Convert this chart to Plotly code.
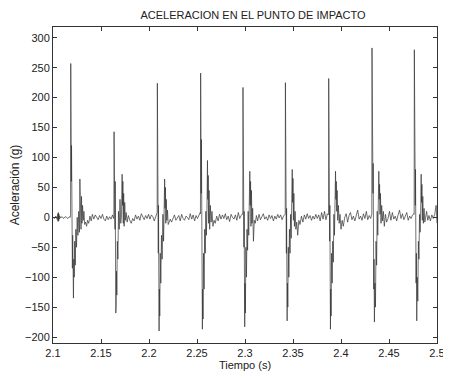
import plotly.graph_objects as go

# ---- data ----
t0 = [2.1000, 2.1015, 2.1030, 2.1045, 2.1050, 2.1053, 2.1056, 2.1059, 2.1062, 2.1066, 2.1070, 2.1080, 2.1095, 2.1110, 2.1125, 2.1140, 2.1155, 2.1170, 2.1180]
a0 = [0, -2, 2, -4, 6, -7, 8, -6, 5, -3, 2, -1, 1, -2, 1, 0, -2, 1, 0]

t1 = [2.1183, 2.1185, 2.1187, 2.1189, 2.1191, 2.1193, 2.1196, 2.1199, 2.1202, 2.1205, 2.1209, 2.1213, 2.1217, 2.1221, 2.1226, 2.1232, 2.1238, 2.1245, 2.1252, 2.1260, 2.1268, 2.1275, 2.1280, 2.1284, 2.1288, 2.1292, 2.1297, 2.1302, 2.1308, 2.1315, 2.1322, 2.1330, 2.1340, 2.1350, 2.1360, 2.1372, 2.1385, 2.1398, 2.1410, 2.1425, 2.1440, 2.1455, 2.1470, 2.1485, 2.1500, 2.1515, 2.1530, 2.1545, 2.1560, 2.1575, 2.1590, 2.1605, 2.1620, 2.1632]
a1 = [5, 257, 140, 200, 60, 120, -20, 40, -85, -30, -110, -135, -70, -100, -40, -80, -20, -50, 0, -30, 10, -25, 64, 10, 50, -20, 35, -10, 20, -5, 10, -12, -8, -15, -5, -10, 2, -6, 5, -3, 4, 0, -4, 3, -2, 5, -3, -6, 2, -4, 1, -3, 4, -2]

t2 = [2.1634, 2.1636, 2.1638, 2.1640, 2.1642, 2.1644, 2.1646, 2.1648, 2.1650, 2.1652, 2.1654, 2.1656, 2.1658, 2.1661, 2.1665, 2.1670, 2.1676, 2.1682, 2.1690, 2.1698, 2.1706, 2.1714, 2.1720, 2.1724, 2.1728, 2.1732, 2.1736, 2.1741, 2.1747, 2.1754, 2.1762, 2.1772, 2.1785, 2.1800, 2.1815, 2.1830, 2.1845, 2.1860, 2.1875, 2.1890, 2.1905, 2.1920, 2.1935, 2.1950, 2.1965, 2.1980, 2.1995, 2.2010, 2.2025, 2.2040, 2.2055, 2.2070, 2.2082]
a2 = [4, 143, 30, 135, 25, 120, -20, 60, -110, -60, -160, -115, -150, -90, -130, -40, -70, 10, -20, 30, -10, 5, 72, 20, 60, -10, 40, -15, 25, -5, 8, -8, 3, -5, -10, -2, -6, 4, -3, 2, -5, 6, 0, -4, 3, -2, 5, -3, 4, 1, -6, 3, 6]

t3 = [2.2085, 2.2087, 2.2089, 2.2091, 2.2093, 2.2095, 2.2097, 2.2099, 2.2101, 2.2103, 2.2105, 2.2108, 2.2112, 2.2117, 2.2123, 2.2130, 2.2137, 2.2145, 2.2152, 2.2158, 2.2163, 2.2167, 2.2171, 2.2175, 2.2180, 2.2186, 2.2193, 2.2200, 2.2210, 2.2222, 2.2235, 2.2250, 2.2265, 2.2280, 2.2295, 2.2310, 2.2325, 2.2340, 2.2355, 2.2370, 2.2385, 2.2400, 2.2415, 2.2430, 2.2445, 2.2460, 2.2475, 2.2490, 2.2505, 2.2520, 2.2533]
a3 = [8, 224, 90, 180, 40, 110, -60, 20, -140, -80, -190, -120, -165, -60, -110, -30, -70, 5, -40, 10, 64, 15, 50, -10, 30, -5, 12, -12, -6, -3, -8, -2, 4, -5, -1, 3, -6, 5, -2, -5, 2, 0, -4, 6, -3, 4, -6, 3, -2, 5, 8]

t4 = [2.2536, 2.2538, 2.2540, 2.2542, 2.2544, 2.2546, 2.2548, 2.2550, 2.2552, 2.2554, 2.2556, 2.2559, 2.2563, 2.2568, 2.2574, 2.2580, 2.2586, 2.2592, 2.2598, 2.2604, 2.2609, 2.2613, 2.2617, 2.2621, 2.2626, 2.2632, 2.2639, 2.2647, 2.2656, 2.2666, 2.2678, 2.2690, 2.2705, 2.2720, 2.2735, 2.2750, 2.2765, 2.2780, 2.2795, 2.2810, 2.2825, 2.2840, 2.2855, 2.2870, 2.2885, 2.2900, 2.2915, 2.2930, 2.2945, 2.2960, 2.2975]
a4 = [6, 241, 110, 190, 40, 130, -40, 20, -130, -70, -187, -120, -170, -60, -120, -20, -60, 10, -30, 15, 95, 30, 70, -10, 45, -20, 20, -8, 10, -15, -5, -10, 2, -6, 5, -3, 4, -2, 6, -4, 2, -7, 5, 0, -3, 4, -5, 8, -2, 3, 6]

t5 = [2.2977, 2.2979, 2.2981, 2.2983, 2.2985, 2.2987, 2.2989, 2.2991, 2.2993, 2.2995, 2.2997, 2.3000, 2.3004, 2.3009, 2.3015, 2.3021, 2.3027, 2.3033, 2.3039, 2.3045, 2.3050, 2.3054, 2.3058, 2.3062, 2.3067, 2.3073, 2.3080, 2.3088, 2.3097, 2.3107, 2.3119, 2.3131, 2.3146, 2.3161, 2.3176, 2.3191, 2.3206, 2.3221, 2.3236, 2.3251, 2.3266, 2.3281, 2.3296, 2.3311, 2.3326, 2.3341, 2.3356, 2.3371, 2.3386, 2.3401, 2.3417]
a5 = [5, 217, 90, 170, 30, 120, -50, 10, -90, -40, -183, -110, -160, -50, -100, -20, -55, 10, -30, 5, 77, 20, 60, -15, 45, -10, 15, -40, -5, -10, 3, -6, 5, -4, 2, 6, -3, 1, -5, 4, -2, 3, -6, 2, -3, 5, -1, 4, -4, 2, 5]

t6 = [2.3419, 2.3421, 2.3423, 2.3425, 2.3427, 2.3429, 2.3431, 2.3433, 2.3435, 2.3437, 2.3439, 2.3442, 2.3446, 2.3451, 2.3457, 2.3463, 2.3469, 2.3475, 2.3481, 2.3487, 2.3492, 2.3496, 2.3500, 2.3504, 2.3509, 2.3515, 2.3522, 2.3530, 2.3539, 2.3549, 2.3561, 2.3573, 2.3588, 2.3603, 2.3618, 2.3633, 2.3648, 2.3663, 2.3678, 2.3693, 2.3708, 2.3723, 2.3738, 2.3753, 2.3768, 2.3783, 2.3798, 2.3813, 2.3828, 2.3843, 2.3858, 2.3868]
a6 = [6, 225, 100, 180, 35, 125, -60, 15, -120, -60, -173, -110, -150, -50, -100, -20, -60, 5, -35, 10, 80, 25, 65, -5, 40, -15, 10, -20, -8, -30, -5, -12, 2, -8, 4, -3, 6, -2, 3, -5, 2, -3, 5, -2, 4, -6, 8, -3, 10, -4, 6, 4]

t7 = [2.3870, 2.3872, 2.3874, 2.3876, 2.3878, 2.3880, 2.3882, 2.3884, 2.3886, 2.3888, 2.3890, 2.3893, 2.3897, 2.3902, 2.3908, 2.3914, 2.3920, 2.3926, 2.3932, 2.3938, 2.3943, 2.3947, 2.3951, 2.3955, 2.3960, 2.3966, 2.3973, 2.3981, 2.3990, 2.4000, 2.4012, 2.4024, 2.4039, 2.4054, 2.4069, 2.4084, 2.4099, 2.4114, 2.4129, 2.4144, 2.4159, 2.4174, 2.4189, 2.4204, 2.4219, 2.4234, 2.4249, 2.4264, 2.4279, 2.4294, 2.4309, 2.4319]
a7 = [5, 232, 100, 190, 40, 130, -40, 20, -100, -50, -187, -120, -165, -60, -110, -40, -75, 5, -30, 10, 77, 30, 60, 10, 45, -5, 20, -10, 5, -20, -5, -15, 0, 6, -8, 3, 8, -4, 2, -6, 4, 12, -3, 2, -5, 6, -2, 10, -4, 3, -2, 4]

t8 = [2.4321, 2.4323, 2.4325, 2.4327, 2.4329, 2.4331, 2.4333, 2.4335, 2.4337, 2.4339, 2.4341, 2.4344, 2.4348, 2.4353, 2.4359, 2.4365, 2.4371, 2.4377, 2.4383, 2.4389, 2.4394, 2.4398, 2.4402, 2.4406, 2.4411, 2.4417, 2.4424, 2.4432, 2.4441, 2.4451, 2.4463, 2.4475, 2.4490, 2.4505, 2.4520, 2.4535, 2.4550, 2.4565, 2.4580, 2.4595, 2.4610, 2.4625, 2.4640, 2.4655, 2.4670, 2.4685, 2.4700, 2.4715, 2.4730, 2.4745, 2.4760]
a8 = [6, 283, 130, 240, 60, 180, 40, 90, -60, -20, -120, -70, -175, -110, -150, -40, -80, 10, -30, 15, 77, 30, 55, 5, 40, -10, 20, -6, 10, -15, 5, -8, -2, 10, -5, 8, -3, 2, -6, 4, 12, -2, 6, -4, 3, 8, -5, 2, -2, 4, 6]

t9 = [2.4762, 2.4764, 2.4766, 2.4768, 2.4770, 2.4772, 2.4774, 2.4776, 2.4778, 2.4780, 2.4782, 2.4785, 2.4789, 2.4794, 2.4800, 2.4806, 2.4812, 2.4818, 2.4824, 2.4830, 2.4835, 2.4839, 2.4843, 2.4847, 2.4852, 2.4858, 2.4865, 2.4873, 2.4882, 2.4892, 2.4904, 2.4916, 2.4931, 2.4946, 2.4961, 2.4976, 2.4991, 2.5000]
a9 = [5, 280, 120, 230, 60, 160, 20, 80, -80, -30, -110, -60, -173, -100, -140, -40, -70, 5, -25, 10, 72, 25, 55, -5, 35, -10, 15, -8, 5, 10, -5, 3, -6, 4, -2, 5, 20, -10]

x_ticks = [2.1, 2.15, 2.2, 2.25, 2.3, 2.35, 2.4, 2.45, 2.5]
x_tick_labels = ["2.1", "2.15", "2.2", "2.25", "2.3", "2.35", "2.4", "2.45", "2.5"]
y_ticks = [-200, -150, -100, -50, 0, 50, 100, 150, 200, 250, 300]

title_text = "ACELERACION EN EL PUNTO DE IMPACTO"
x_label = "Tiempo (s)"
y_label = "Aceleración (g)"

# ---- assemble ----
times = t0 + t1 + t2 + t3 + t4 + t5 + t6 + t7 + t8 + t9
accel = a0 + a1 + a2 + a3 + a4 + a5 + a6 + a7 + a8 + a9

FONT = "Liberation Sans, Arial, sans-serif"
TXT = "#222222"

fig = go.Figure()
fig.add_trace(go.Scatter(x=times, y=accel, mode="lines",
                         line=dict(color="#333333", width=0.7),
                         showlegend=False, hoverinfo="skip"))

axis_common = dict(showline=True, mirror="ticks", linecolor="#333333", linewidth=1,
                   ticks="inside", ticklen=4, tickcolor="#333333",
                   showgrid=False, zeroline=False, automargin=False,
                   tickfont=dict(family=FONT, size=11, color=TXT))

# the page body adds an 8 px offset, so the figure is 8 px smaller
fig.update_layout(
    width=443, height=370,
    margin=dict(l=45, r=14, t=19, b=35),
    paper_bgcolor="white", plot_bgcolor="white",
    title=dict(text=title_text, x=0.553, xanchor="center", y=0.99, yanchor="top",
               font=dict(family=FONT, size=11, color=TXT)),
    xaxis=dict(range=[2.1, 2.5], tickvals=x_ticks, ticktext=x_tick_labels,
               title=dict(text=x_label, standoff=2,
                          font=dict(family=FONT, size=11, color=TXT)),
               **axis_common),
    yaxis=dict(range=[-210, 318], tickvals=y_ticks,
               title=dict(text=y_label, standoff=9,
                          font=dict(family=FONT, size=12, color=TXT)),
               **axis_common),
)

fig.write_html("out.html")
